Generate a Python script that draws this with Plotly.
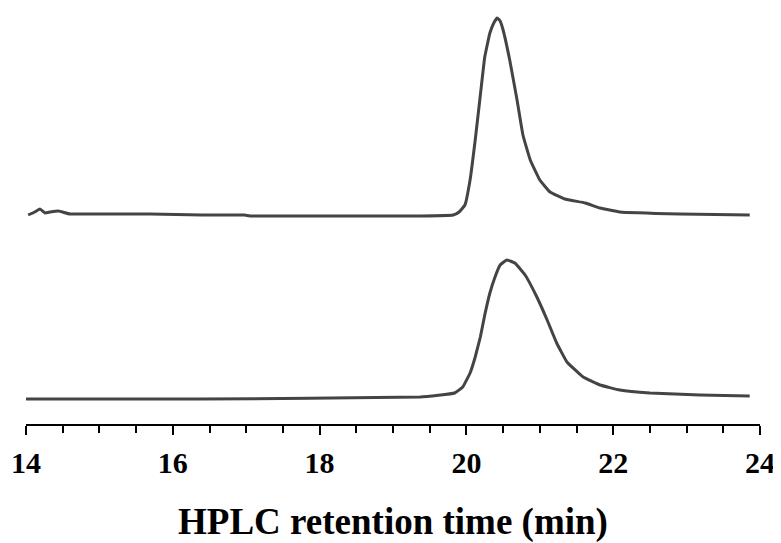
import plotly.graph_objects as go

# Retention time (min) and detector signal (arbitrary units, stacked traces)
time_top = [14.03, 14.12, 14.19, 14.26, 14.33, 14.44, 14.60, 15.00, 15.69, 16.40, 16.98, 17.05,
            18.00, 19.37, 19.82, 19.90, 19.98, 20.05, 20.12, 20.19, 20.25, 20.32, 20.38, 20.42,
            20.46, 20.50, 20.59, 20.69, 20.77, 20.87, 21.00, 21.14, 21.34, 21.62, 21.82,
            22.09, 22.91, 23.86]
signal_top = [209, 212, 215, 211, 212, 213, 210, 210, 210, 209, 209, 208,
              208, 208, 209, 212, 219, 244, 284, 329, 367, 391, 402, 406,
              403, 394, 364, 324, 289, 264, 244, 232, 225, 221, 216,
              212, 210, 209]

time_bottom = [14.00, 16.37, 19.37, 19.84, 19.95, 20.05, 20.12, 20.19, 20.25, 20.32, 20.39,
               20.46, 20.55, 20.66, 20.80, 20.96, 21.10, 21.23, 21.37, 21.59, 21.82, 22.09,
               22.50, 23.18, 23.86]
signal_bottom = [25, 25, 27, 31, 37, 51, 67, 87, 109, 131, 147,
                 159, 164, 161, 149, 127, 104, 81, 62, 47, 39, 34,
                 31, 29, 28]

x_ticks = [14, 16, 18, 20, 22, 24]
x_title = "HPLC retention time (min)"

line_style = dict(color="#444444", width=3, shape="spline", smoothing=0.3)

fig = go.Figure()
fig.add_trace(go.Scatter(x=time_top, y=signal_top, mode="lines", line=line_style, showlegend=False))
fig.add_trace(go.Scatter(x=time_bottom, y=signal_bottom, mode="lines", line=line_style, showlegend=False))

serif = "Liberation Serif, Times New Roman, serif"
# page body has an 8px margin, so the figure is sized to fit the 781x543 window
fig.update_layout(
    width=773, height=535,
    margin=dict(l=18, r=21, t=2, b=119),
    paper_bgcolor="white", plot_bgcolor="white",
    xaxis=dict(
        range=[14, 24], showgrid=False, zeroline=False, automargin=False,
        showline=True, linecolor="black", linewidth=2,
        ticks="outside", ticklen=9, tickwidth=2, tickcolor="black",
        tickvals=x_ticks, ticktext=[str(v) for v in x_ticks],
        tickfont=dict(family=serif, size=30, color="black", weight="bold"),
        ticklabelstandoff=2,
        minor=dict(dtick=0.5, ticks="outside", ticklen=7, tickwidth=2, tickcolor="black"),
        title=dict(text=x_title, font=dict(family=serif, size=37, color="black", weight="bold"),
                   standoff=34),
    ),
    yaxis=dict(range=[0, 414], visible=False, showgrid=False, zeroline=False, automargin=False),
)

fig.write_html("out.html")
